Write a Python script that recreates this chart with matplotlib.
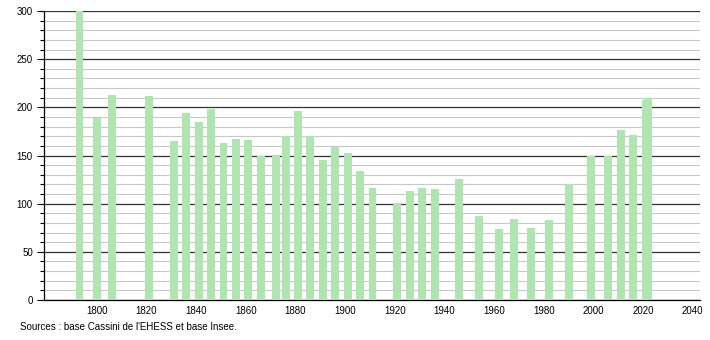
import matplotlib
matplotlib.use("Agg")
import matplotlib.pyplot as plt
from matplotlib.ticker import MultipleLocator

plt.rcParams['font.family'] = ['Liberation Sans', 'DejaVu Sans']

years = [1793, 1800, 1806, 1821, 1831, 1836, 1841, 1846, 1851, 1856,
         1861, 1866, 1872, 1876, 1881, 1886, 1891, 1896, 1901, 1906,
         1911, 1921, 1926, 1931, 1936, 1946, 1954, 1962, 1968, 1975,
         1982, 1990, 1999, 2006, 2011, 2016, 2021, 2022]
population = [300, 189, 213, 212, 165, 194, 185, 198, 163, 167,
              166, 150, 151, 170, 196, 170, 145, 159, 153, 134,
              116, 101, 113, 116, 115, 126, 87, 74, 84, 75,
              83, 120, 149, 150, 176, 171, 208, 210]
source = "Sources : base Cassini de l'EHESS et base Insee."

fig = plt.figure(figsize=(7.1, 3.4), dpi=100)
ax = fig.add_axes([44/710, 40/340, 656/710, 289/340])

ax.bar(years, population, width=3.2, color='#b0e4b0', zorder=3)

ax.set_xlim(1778.7, 2042.9)
ax.set_ylim(0, 300)
ax.xaxis.set_major_locator(MultipleLocator(20))
ax.set_xticks(range(1800, 2041, 20))
ax.yaxis.set_major_locator(MultipleLocator(50))
ax.yaxis.set_minor_locator(MultipleLocator(10))

ax.grid(axis='y', which='major', color='#333333', linewidth=0.9, zorder=1)
ax.grid(axis='y', which='minor', color='#c8c8c8', linewidth=0.8, zorder=1)

for s in ['top', 'right']:
    ax.spines[s].set_visible(False)
ax.spines['left'].set_linewidth(0.9)
ax.spines['bottom'].set_linewidth(0.9)

ax.tick_params(axis='y', which='major', length=5, width=0.8, labelsize=7, pad=3)
ax.tick_params(axis='y', which='minor', length=3, width=0.8)
ax.tick_params(axis='x', length=0, labelsize=7, pad=4)

fig.text(20/710, 1 - 327/340, source, fontsize=7, va='center', ha='left')

fig.savefig("out.png", dpi=100)
